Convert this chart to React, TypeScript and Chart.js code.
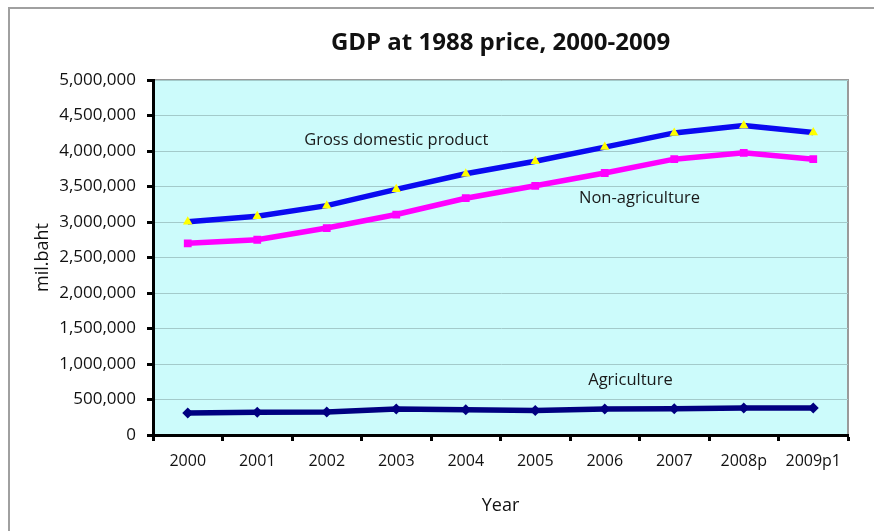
import React, { useEffect, useRef } from "react";
import { Chart, registerables } from "chart.js";

Chart.register(...registerables);

// Years on the category axis
const years = ["2000", "2001", "2002", "2003", "2004", "2005", "2006", "2007", "2008p", "2009p1"];

// GDP at 1988 prices, million baht
const gdpValues = [3005000, 3080000, 3230000, 3460000, 3680000, 3855000, 4055000, 4255000, 4360000, 4260000];
const nonAgricultureValues = [2700000, 2750000, 2915000, 3105000, 3335000, 3510000, 3690000, 3885000, 3975000, 3885000];
const agricultureValues = [310000, 320000, 325000, 365000, 355000, 345000, 365000, 370000, 380000, 380000];

// In-plot series labels: [text, category position, value]
const seriesLabels: [string, number, number][] = [
  ["Gross domestic product", 3.0, 4155000],
  ["Non-agriculture", 6.5, 3340000],
  ["Agriculture", 6.37, 775000],
];

const chartTitle = "GDP at 1988 price, 2000-2009";
const FONT = "'Open Sans', 'Noto Sans', sans-serif";

const plotDecor = {
  id: "plotDecor",
  beforeDraw(chart: any) {
    const { ctx, chartArea } = chart;
    const { left, right, top, bottom } = chartArea;
    ctx.save();
    ctx.fillStyle = "#ccfbfb";
    ctx.fillRect(left, top, right - left, bottom - top);
    ctx.strokeStyle = "#9a9a9a";
    ctx.lineWidth = 2;
    ctx.beginPath();
    ctx.moveTo(left, top);
    ctx.lineTo(right, top);
    ctx.lineTo(right, bottom);
    ctx.stroke();
    ctx.restore();
  },
  afterDraw(chart: any) {
    const { ctx, chartArea, scales } = chart;
    ctx.save();
    ctx.fillStyle = "#111";
    ctx.textAlign = "center";
    ctx.textBaseline = "middle";
    ctx.font = `bold 24px ${FONT}`;
    ctx.fillText(chartTitle, (chartArea.left + chartArea.right) / 2, 43);
    ctx.font = `16.5px ${FONT}`;
    ctx.fillStyle = "#1a1a1a";
    for (const [text, xv, yv] of seriesLabels) {
      ctx.fillText(text, scales.x.getPixelForValue(xv), scales.y.getPixelForValue(yv));
    }
    ctx.restore();
  },
};

export default function App() {
  const canvasRef = useRef<HTMLCanvasElement | null>(null);

  useEffect(() => {
    document.body.style.margin = "0";
    const canvas = canvasRef.current;
    if (!canvas) return;
    const chart = new Chart(canvas, {
      type: "line",
      data: {
        labels: years,
        datasets: [
          {
            label: "Agriculture",
            data: agricultureValues,
            borderColor: "#000080",
            backgroundColor: "#000080",
            borderWidth: 5.5,
            pointStyle: "rectRot",
            pointRadius: 5.5,
            pointBorderWidth: 0,
            pointBackgroundColor: "#000080",
          },
          {
            label: "Non-agriculture",
            data: nonAgricultureValues,
            borderColor: "#ff00ff",
            backgroundColor: "#ff00ff",
            borderWidth: 5.5,
            pointStyle: "rect",
            pointRadius: 5.5,
            pointBorderWidth: 0,
            pointBackgroundColor: "#ff00ff",
          },
          {
            label: "Gross domestic product",
            data: gdpValues,
            borderColor: "#0a0af0",
            backgroundColor: "#ffff00",
            borderWidth: 5.5,
            pointStyle: "triangle",
            pointRadius: 5.5,
            pointBorderWidth: 0,
            pointBackgroundColor: "#ffff00",
          },
        ],
      },
      options: {
        animation: false,
        responsive: false,
        maintainAspectRatio: false,
        layout: { padding: { top: 80, right: 26, left: 0, bottom: 0 } },
        plugins: {
          legend: { display: false },
          title: { display: false },
          tooltip: { enabled: false },
        },
        scales: {
          x: {
            type: "category",
            offset: true,
            grid: {
              offset: true,
              color: "rgba(0,0,0,0)",
              tickColor: "#000",
              tickWidth: 3,
              tickLength: 6,
            },
            border: { color: "#000", width: 3 },
            ticks: {
              color: "#111",
              font: { family: FONT, size: 16 },
              padding: 11,
              maxRotation: 0,
              autoSkip: false,
            },
            title: {
              display: true,
              text: "Year",
              color: "#111",
              font: { family: FONT, size: 18 },
              padding: { top: 0, bottom: 14 },
            },
            afterFit(scale: any) {
              scale.height = 96;
            },
          },
          y: {
            min: 0,
            max: 5000000,
            grid: {
              color: "#a3caca",
              lineWidth: 1,
              tickColor: "#000",
              tickWidth: 3,
              tickLength: 6,
            },
            border: { color: "#000", width: 3 },
            ticks: {
              stepSize: 500000,
              color: "#111",
              font: { family: FONT, size: 17 },
              padding: 11,
              callback: (v: any) => Number(v).toLocaleString("en-US"),
            },
            title: {
              display: true,
              text: "mil.baht",
              color: "#111",
              font: { family: FONT, size: 18 },
              padding: { top: 32, bottom: 0 },
            },
            afterFit(scale: any) {
              scale.width = 153;
            },
          },
        },
      },
      plugins: [plotDecor],
    });
    return () => chart.destroy();
  }, []);

  return (
    <div style={{ position: "relative", width: 874, height: 531, overflow: "hidden", background: "#fff" }}>
      <div
        style={{
          position: "absolute",
          left: 8,
          top: 7,
          width: 900,
          height: 600,
          border: "2px solid #a0a0a0",
        }}
      />
      <canvas ref={canvasRef} width={874} height={531} style={{ position: "absolute", left: 0, top: 0 }} />
    </div>
  );
}
